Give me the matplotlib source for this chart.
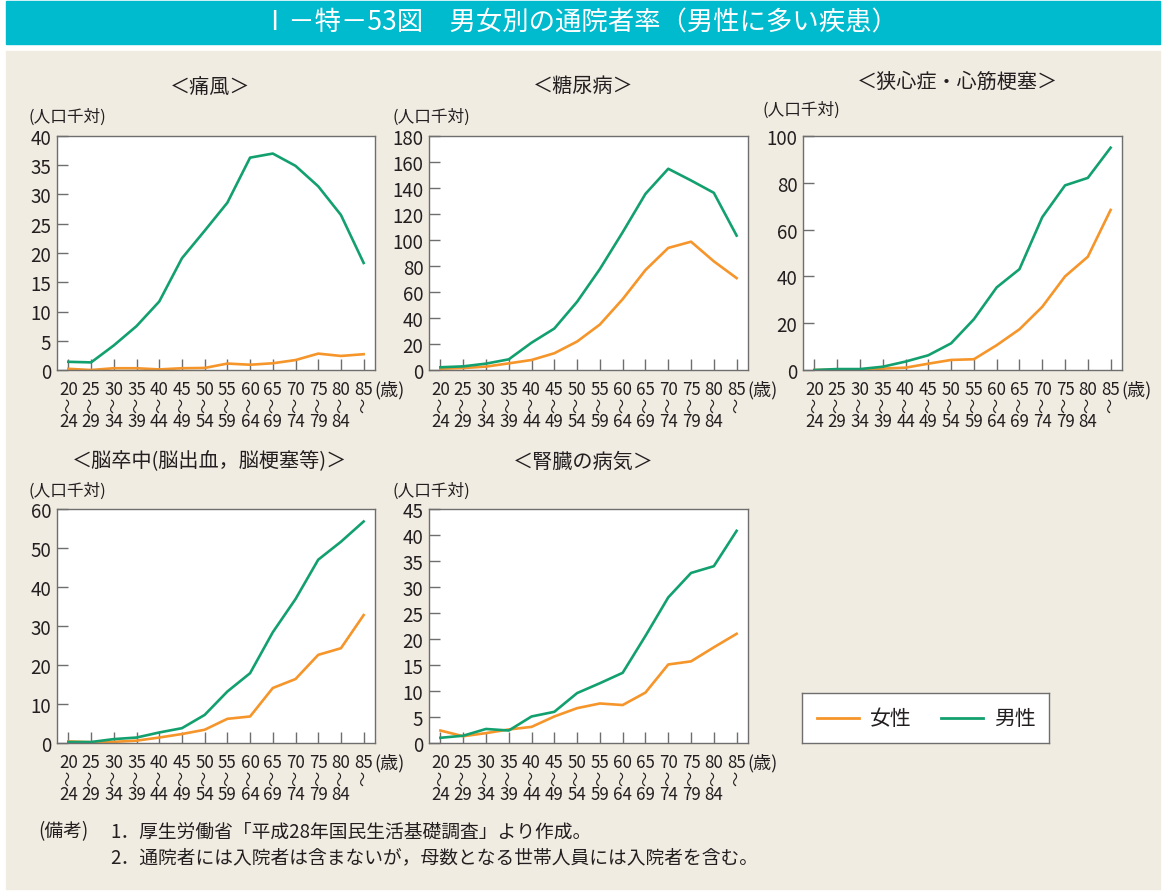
import numpy as np
import matplotlib
matplotlib.use('Agg')
import matplotlib.pyplot as plt
from matplotlib.patches import Rectangle

plt.rcParams['font.family'] = ['Noto Sans CJK JP', 'DejaVu Sans']

# Data (人口千対)
age_top = ['20', '25', '30', '35', '40', '45', '50', '55', '60', '65', '70', '75', '80', '85']
age_bottom = ['24', '29', '34', '39', '44', '49', '54', '59', '64', '69', '74', '79', '84', '']

titles = ['＜痛風＞', '＜糖尿病＞', '＜狭心症・心筋梗塞＞',
          '＜脳卒中(脳出血，脳梗塞等)＞', '＜腎臓の病気＞']
ymax = [40, 180, 100, 60, 45]
ystep = [5, 20, 20, 10, 5]

gout_m = [1.4, 1.3, 4.2, 7.5, 11.7, 19.1, 23.8, 28.6, 36.3, 37.0, 34.9, 31.4, 26.5, 18.3]
gout_f = [0.2, 0.0, 0.3, 0.3, 0.1, 0.3, 0.35, 1.1, 0.9, 1.15, 1.7, 2.8, 2.4, 2.7]
diab_m = [2.1, 2.8, 4.9, 8.2, 21.0, 31.9, 52.5, 77.7, 106.0, 135.5, 154.8, 145.8, 136.3, 103.4]
diab_f = [1.0, 1.5, 2.6, 5.1, 7.7, 12.9, 21.9, 35.0, 54.5, 76.9, 93.9, 98.7, 83.6, 70.7]
heart_m = [0.0, 0.4, 0.4, 1.4, 3.6, 6.3, 11.4, 21.7, 35.3, 43.1, 65.3, 78.9, 82.1, 95.0]
heart_f = [0.0, 0.1, 0.1, 0.6, 1.0, 2.7, 4.3, 4.6, 10.6, 17.4, 27.0, 40.0, 48.4, 68.4]
stroke_m = [0.25, 0.25, 1.0, 1.4, 2.7, 3.8, 7.2, 13.2, 17.9, 28.4, 36.9, 47.0, 51.6, 56.8]
stroke_f = [0.4, 0.2, 0.3, 0.6, 1.4, 2.3, 3.4, 6.2, 6.8, 14.1, 16.4, 22.6, 24.3, 32.8]
kidney_m = [1.0, 1.4, 2.7, 2.4, 5.1, 6.0, 9.6, 11.5, 13.5, 20.6, 28.0, 32.7, 34.0, 40.8]
kidney_f = [2.4, 1.3, 1.9, 2.6, 3.1, 5.1, 6.7, 7.6, 7.3, 9.7, 15.1, 15.7, 18.4, 21.0]

male = [gout_m, diab_m, heart_m, stroke_m, kidney_m]
female = [gout_f, diab_f, heart_f, stroke_f, kidney_f]

ORANGE = '#F5952A'
GREEN = '#13A06F'
BEIGE = '#F1ECE2'
TEAL = '#00BACD'
GRAY = '#6E6E6E'
TEXT = '#231F20'

W, H = 1165, 895
fig = plt.figure(figsize=(W / 100, H / 100), dpi=100, facecolor='white')


def px(x0, y0, x1, y1):
    # pixel box (top-left origin) -> figure fraction rect
    return [x0 / W, 1 - y1 / H, (x1 - x0) / W, (y1 - y0) / H]


# Title bar and beige panel
fig.patches.append(Rectangle((6 / W, 1 - 45 / H), 1154 / W, 43 / H,
                             transform=fig.transFigure, color=TEAL, zorder=-5))
fig.patches.append(Rectangle((6 / W, 1 - 890 / H), 1154 / W, 838 / H,
                             transform=fig.transFigure, color=BEIGE, zorder=-5))
fig.text(580 / W, 1 - 23 / H, 'Ⅰ－特－53図　男女別の通院者率（男性に多い疾患）',
         color='white', fontsize=19, ha='center', va='center')

boxes = [(57, 137, 375, 371), (429, 137, 748, 371), (803, 137, 1122, 371),
         (57, 510, 375, 744), (429, 510, 748, 744)]
title_pos = [(210, 87), (583, 87), (957, 82), (210, 462), (583, 462)]
unit_pos = [(28, 117), (392, 117), (763, 110), (28, 491), (392, 491)]

x = np.arange(len(age_top))
for k in range(5):
    ax = fig.add_axes(px(*boxes[k]))
    ax.set_facecolor('white')
    ax.plot(x, female[k], color=ORANGE, lw=1.9, solid_joinstyle='round')
    ax.plot(x, male[k], color=GREEN, lw=1.9, solid_joinstyle='round')
    ax.set_xlim(-0.5, 13.5)
    ax.set_ylim(0, ymax[k])
    ax.set_yticks(np.arange(0, ymax[k] + 1, ystep[k]))
    ax.set_xticks(x)
    ax.set_xticklabels([])
    ax.tick_params(direction='in', length=8, width=1, color=GRAY,
                   labelsize=13.5, labelcolor=TEXT, pad=3)
    ax.tick_params(axis='y', pad=4)
    for s in ax.spines.values():
        s.set_color(GRAY)
        s.set_linewidth(1)
    for i in x:
        ax.annotate(age_top[i], xy=(i, 0), xycoords=('data', 'axes fraction'),
                    xytext=(0, -14), textcoords='offset points',
                    ha='center', va='center', fontsize=12.2, color=TEXT)
        ax.annotate('〜', xy=(i, 0), xycoords=('data', 'axes fraction'),
                    xytext=(0, -25), textcoords='offset points', rotation=90,
                    ha='center', va='center', fontsize=11, color=TEXT)
        ax.annotate(age_bottom[i], xy=(i, 0), xycoords=('data', 'axes fraction'),
                    xytext=(0, -37), textcoords='offset points',
                    ha='center', va='center', fontsize=12.2, color=TEXT)
    ax.annotate('(歳)', xy=(13, 0), xycoords=('data', 'axes fraction'),
                xytext=(8, -14), textcoords='offset points',
                ha='left', va='center', fontsize=13, color=TEXT)
    fig.text(title_pos[k][0] / W, 1 - title_pos[k][1] / H, titles[k],
             ha='center', va='center', fontsize=14.5, color=TEXT)
    fig.text(unit_pos[k][0] / W, 1 - unit_pos[k][1] / H, '(人口千対)',
             ha='left', va='center', fontsize=12, color=TEXT)

# Legend box
lax = fig.add_axes(px(802, 694, 1049, 744))
lax.set_xticks([])
lax.set_yticks([])
lax.set_facecolor('white')
for s in lax.spines.values():
    s.set_color(GRAY)
    s.set_linewidth(1)
lax.set_xlim(0, 247)
lax.set_ylim(0, 50)
lax.plot([15, 57], [25, 25], color=ORANGE, lw=2)
lax.text(68, 25, '女性', ha='left', va='center', fontsize=15, color=TEXT)
lax.plot([139, 181], [25, 25], color=GREEN, lw=2)
lax.text(192, 25, '男性', ha='left', va='center', fontsize=15, color=TEXT)

# Notes
fig.text(38 / W, 1 - 832 / H, '(備考)', ha='left', va='center', fontsize=13.5, color=TEXT)
fig.text(110 / W, 1 - 832 / H, '1．厚生労働省「平成28年国民生活基礎調査」より作成。',
         ha='left', va='center', fontsize=13.5, color=TEXT)
fig.text(110 / W, 1 - 858 / H, '2．通院者には入院者は含まないが，母数となる世帯人員には入院者を含む。',
         ha='left', va='center', fontsize=13.5, color=TEXT)

fig.savefig('out.png', dpi=100, facecolor='white')
